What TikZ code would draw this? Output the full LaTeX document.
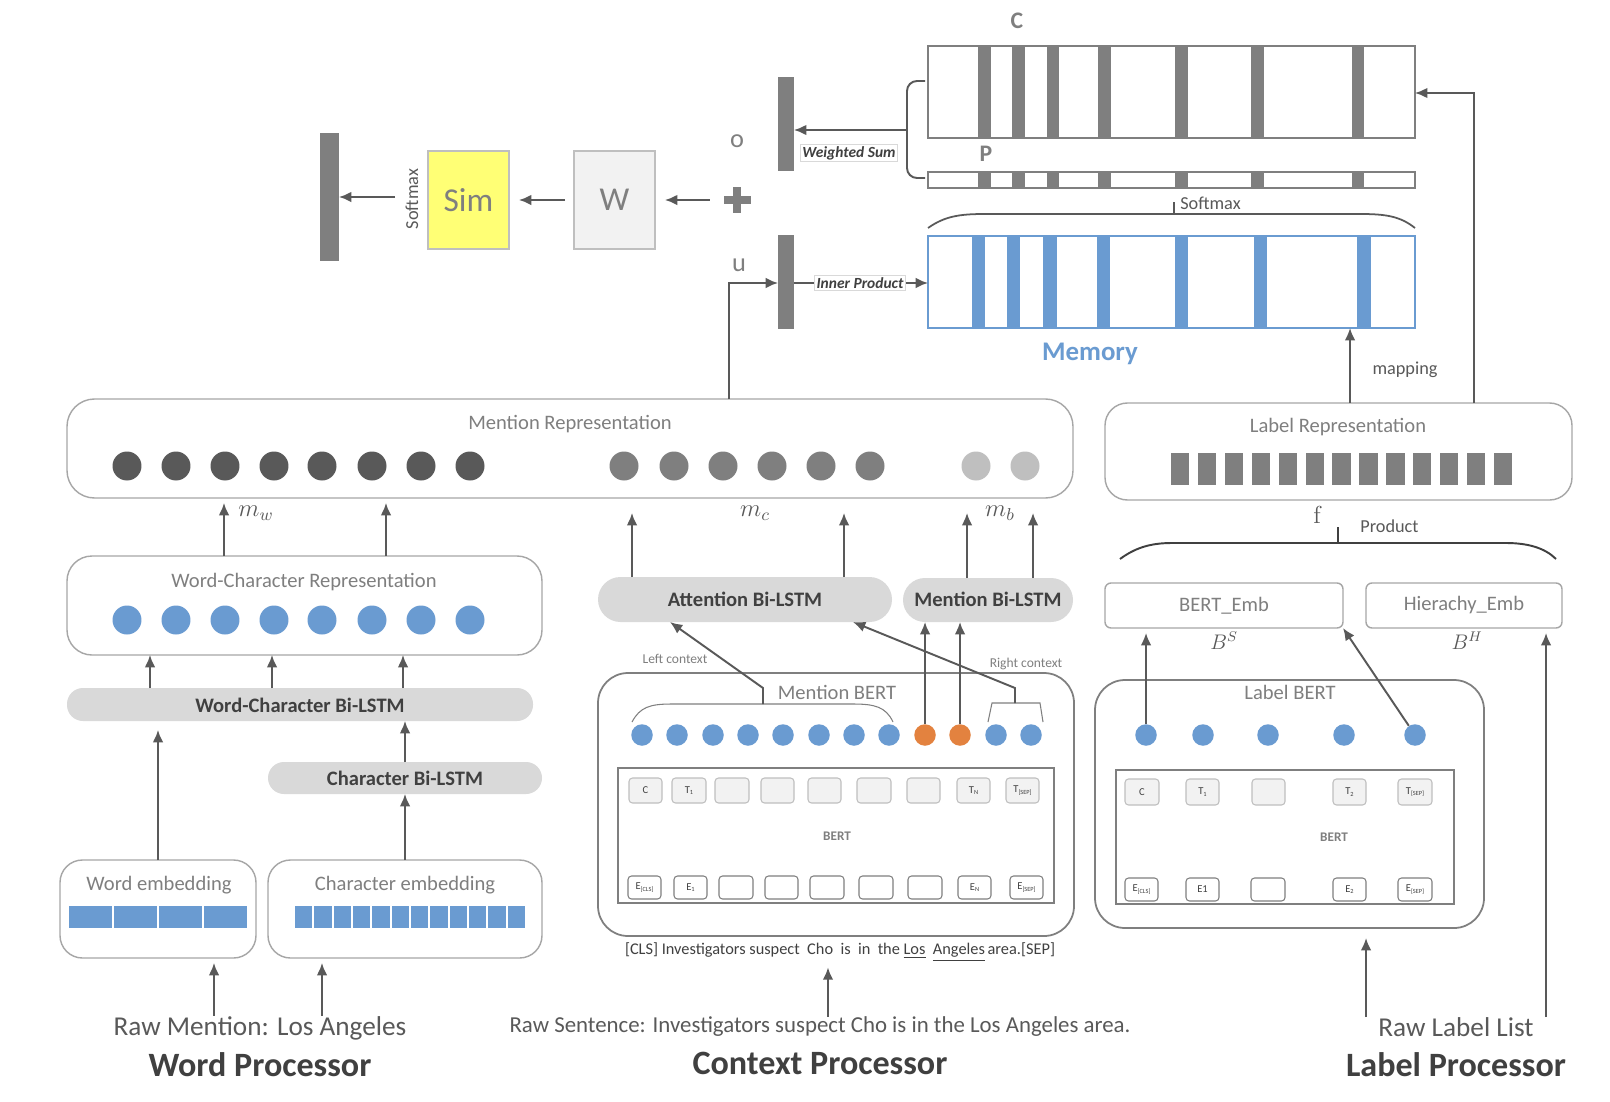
\RequirePackage{fix-cm}
\documentclass[tikz,border=0pt]{standalone}
\usepackage[no-math]{fontspec}
\setmainfont{Carlito}
\usetikzlibrary{arrows.meta}
\definecolor{ag}{HTML}{595959}
\definecolor{tg}{HTML}{7F7F7F}
\definecolor{dg}{HTML}{404040}
\definecolor{bd}{HTML}{A6A6A6}
\definecolor{lg}{HTML}{D9D9D9}
\definecolor{vl}{HTML}{F2F2F2}
\definecolor{bl}{HTML}{6A9BD1}
\definecolor{og}{HTML}{E3823F}
\definecolor{yl}{HTML}{FFFF75}
\definecolor{lc}{HTML}{BFBFBF}
\newcommand\fsz[1]{\fontsize{#1}{#1}\selectfont}
\newcommand\mkbox[7]{\node[inner sep=0pt, outer sep=0pt, minimum width={(#4-#2)*0.02cm}, minimum height={(#5-#3)*0.02cm},#6] (#1) at ({(#2+#4)/2},{(#3+#5)/2}) {#7};}
\newcommand\tsub[1]{\raisebox{-0.3ex}{\fontsize{3.6pt}{4pt}\selectfont #1}}
\begin{document}
\begin{tikzpicture}[x=0.02cm,y=-0.02cm,
 arr/.style={draw=ag, line width=1.1pt, -{Latex[length=7pt,width=6pt]}},
 ln/.style={draw=ag, line width=1.1pt},
 rbox/.style={draw=bd, line width=0.8pt, rounded corners=0.55cm},
 bbox/.style={draw=tg, line width=1pt, rounded corners=0.6cm},
 pill/.style={fill=lg, rounded corners=#1},
 lbl/.style={text=tg, inner sep=0pt, font=\fsz{11.7pt}},
 bold/.style={text=dg, font=\bfseries\fsz{11.7pt}, inner sep=0pt},
 dot/.style={circle, inner sep=0pt, minimum size=0.43cm, fill=bl},
 big/.style={circle, inner sep=0pt, minimum size=0.58cm},
 tokT/.style={fill=vl, draw=lc, rounded corners=2pt, line width=0.6pt, font=\fsz{6pt}, text=dg},
 tokE/.style={fill=white, draw=tg, rounded corners=2pt, line width=0.6pt, font=\fsz{6pt}, text=dg},
 ebox/.style={draw=bd, line width=0.8pt, rounded corners=0.12cm, font=\fsz{11.7pt}, text=tg},
 tag/.style={draw=lg, fill=white, font=\bfseries\itshape\fsz{8.8pt}, text=dg, inner sep=1pt},
 title/.style={text=dg, font=\bfseries\fsz{19.4pt}, inner sep=0pt}
 ]
\fill[white] (0,0) rectangle (1610,1102);
\useasboundingbox (0,0) rectangle (1610,1102);

%% ---------- top: output part
\mkbox{smbar}{320}{133}{339}{261}{fill=tg}{}
\node[lbl, text=ag, rotate=90, font=\fsz{10.4pt}] (smtxt) at (412,199) {Softmax};
\coordinate (smA) at (395,197);
\draw[arr] (smA) -- (smbar.east |- smA);
\mkbox{sim}{428}{151}{509}{249}{fill=yl, draw=lc, line width=0.8pt, text=tg, font=\fsz{19pt}}{Sim}
\mkbox{wbox}{574}{151}{655}{249}{fill=vl, draw=lc, line width=0.8pt, text=tg, font=\fsz{19pt}}{W}
\draw[arr, shorten <=0.18cm, shorten >=0.2cm] (wbox) -- (sim);
\node[inner sep=0pt, minimum size=0.54cm] (plus) at (737,200) {};
\fill[tg] (724,196) rectangle (751,204);
\fill[tg] (733,187) rectangle (741,213);
\draw[arr, shorten <=0.27cm, shorten >=0.2cm] (plus) -- (wbox);
\node[lbl, font=\fsz{15pt}] (olab) at (737,141) {o};
\node[lbl, font=\fsz{15pt}] (ulab) at (739,265) {u};
\mkbox{obar}{778}{77}{794}{171}{fill=tg}{}
\mkbox{ubar}{778}{235}{794}{329}{fill=tg}{}

% C and P
\foreach \a/\b in {978/991,1012/1025,1047/1059,1098/1111,1175/1188,1251/1264,1352/1364}{
  \fill[tg] (\a,46) rectangle (\b,138);
  \fill[tg] (\a,172) rectangle (\b,188);}
\mkbox{cbox}{928}{46}{1415}{138}{draw=tg, line width=1.4pt}{}
\mkbox{pbox}{928}{172}{1415}{188}{draw=tg, line width=1.4pt}{}
\node[lbl, font=\bfseries\fsz{13.5pt}] (clab) at (1017,21) {C};
\node[lbl, font=\bfseries\fsz{13.5pt}] (plab) at (986,154) {P};
\draw[ln, rounded corners=0.2cm] (925,81) -- (907,81) -- (907,178) -- (925,178);
\coordinate (wsb) at (907,130);
\draw[arr] (wsb) -- (obar.east |- wsb);
\node[tag] (wsum) at (849,153) {Weighted Sum};

% softmax brace
\draw[ln, line width=1pt] (928,228) .. controls (945,216) and (960,214) .. (985,214) -- (1360,214) .. controls (1385,214) and (1400,216) .. (1415,228);
\draw[ln, line width=1pt] (1174,214) -- (1174,202);
\node[lbl, text=ag, font=\fsz{10.4pt}, anchor=west] (smx) at (1180,203) {Softmax};

% memory
\foreach \a/\b in {972/985,1007/1020,1043/1057,1097/1110,1175/1188,1254/1267,1357/1371}{
  \fill[bl] (\a,236) rectangle (\b,328);}
\mkbox{mem}{928}{236}{1415}{328}{draw=bl, line width=1.4pt}{}
\node[lbl, text=bl, font=\bfseries\fsz{15.3pt}] (memlab) at (1090,354) {Memory};
\coordinate (ipy) at (786,283);
\draw[arr] (ubar.east |- ipy) -- (mem.west |- ipy);
\node[tag] (iprod) at (860,283) {Inner Product};

%% ---------- mention representation
\mkbox{mrep}{67}{399}{1073}{498}{rbox}{}
\node[lbl] (mreptxt) at (570,424) {Mention Representation};
\foreach \x [count=\i] in {127,176,225,274,322,372,421,470}{\node[big, fill=ag] (mw\i) at (\x,466) {};}
\foreach \x [count=\i] in {624,674,723,772,821,870}{\node[big, fill=tg] (mc\i) at (\x,466) {};}
\foreach \x [count=\i] in {976,1025}{\node[big, fill=lc] (mb\i) at (\x,466) {};}
\coordinate (uc) at (729,283);
\draw[arr] (mrep.north -| uc) |- (ubar.west |- uc);

%% ---------- word processor
\mkbox{wcr}{67}{556}{542}{655}{rbox, rounded corners=0.5cm}{}
\node[lbl] (wcrtxt) at (304,582) {Word-Character Representation};
\foreach \x [count=\i] in {127,176,225,274,322,372,421,470}{\node[big, fill=bl] (wc\i) at (\x,620) {};}
\foreach \x in {224,386}{\draw[arr, shorten >=0.1cm] (wcr.north -| \x,0) -- (mrep.south -| \x,0);}
\node[lbl, text=ag, font=\fsz{14pt}] (mwl) at (256,513) {$m_w$};
\mkbox{wcbi}{67}{688}{533}{721}{pill=0.32cm}{}
\node[bold] (wcbit) at (300,705) {Word-Character Bi-LSTM};
\foreach \x in {150,272,403}{\draw[arr] (wcbi.north -| \x,0) -- (wcr.south -| \x,0);}
\mkbox{cbi}{268}{762}{542}{794}{pill=0.32cm}{}
\node[bold] (cbit) at (405,778) {Character Bi-LSTM};
\draw[arr] (cbi.north -| 405,0) -- (wcbi.south -| 405,0);
\mkbox{wemb}{60}{860}{256}{958}{rbox, rounded corners=0.45cm}{}
\node[lbl] (wembt) at (159,885) {Word embedding};
\foreach \i in {0,...,3}{\draw[fill=bl, draw=white, line width=1pt] ({68+\i*45},905) rectangle ({68+(\i+1)*45},929);}
\mkbox{cemb}{268}{860}{542}{958}{rbox, rounded corners=0.45cm}{}
\node[lbl] (cembt) at (405,885) {Character embedding};
\foreach \i in {0,...,11}{\draw[fill=bl, draw=white, line width=1pt] ({294+\i*19.33},905) rectangle ({294+(\i+1)*19.33},929);}
\draw[arr, shorten >=0.18cm] (wemb.north -| 158,0) -- (wcbi.south -| 158,0);
\draw[arr] (cemb.north -| 405,0) -- (cbi.south -| 405,0);
\node[lbl, text=ag, font=\fsz{15.5pt}] (rawm) at (260,1028) {Raw Mention: Los Angeles};
\draw[arr, shorten >=0.1cm] (rawm.north -| 214,0) -- (wemb.south -| 214,0);
\draw[arr, shorten >=0.1cm] (rawm.north -| 322,0) -- (cemb.south -| 322,0);
\node[title] (wproc) at (260,1065) {Word Processor};

%% ---------- context processor
\mkbox{attn}{598}{577}{892}{622}{pill=0.45cm}{}
\node[bold] (attnt) at (745,599) {Attention Bi-LSTM};
\mkbox{mbi}{903}{578}{1073}{622}{pill=0.44cm}{}
\node[bold] (mbit) at (988,599) {Mention Bi-LSTM};
\foreach \x in {632,844}{\draw[arr, shorten >=0.3cm] (attn.north -| \x,0) -- (mrep.south -| \x,0);}
\foreach \x in {967,1033}{\draw[arr, shorten >=0.3cm] (mbi.north -| \x,0) -- (mrep.south -| \x,0);}
\node[lbl, text=ag, font=\fsz{14pt}] (mcl) at (755,513) {$m_c$};
\node[lbl, text=ag, font=\fsz{14pt}] (mbl) at (1000,513) {$m_b$};

\mkbox{mbert}{598}{673}{1074}{936}{bbox}{}
\node[lbl] (mbertt) at (837,692) {Mention BERT};
\foreach \x [count=\i] in {642,677,713,748,783,819,854,889}{\node[dot] (md\i) at (\x,735) {};}
\node[dot, fill=og] (md9) at (925,735) {};
\node[dot, fill=og] (md10) at (960,735) {};
\node[dot] (md11) at (996,735) {};
\node[dot] (md12) at (1031,735) {};
\draw[draw=tg, line width=0.6pt] (632,722) .. controls (640,707) and (650,704) .. (672,704) -- (853,704) .. controls (875,704) and (886,707) .. (893,722);
\draw[draw=tg, line width=0.6pt] (988,722) -- (992,703) -- (1040,703) -- (1043,722);
\coordinate (lcb) at (763,704);
\coordinate (lct) at (763,688);
\coordinate (attnL) at (670,622);
\draw[arr] (lcb) -- (lct) -- (attnL);
\coordinate (rcb) at (1015,703);
\coordinate (rct) at (1015,688);
\coordinate (attnR) at (853,622);
\draw[arr] (rcb) -- (rct) -- (attnR);
\node[lbl, font=\fsz{7.7pt}] (lctx) at (675,659) {Left context};
\node[lbl, font=\fsz{7.7pt}] (rctx) at (1026,664) {Right context};
\draw[arr] (md9) -- (mbi.south -| md9);
\draw[arr] (md10) -- (mbi.south -| md10);

\mkbox{mib}{618}{768}{1054}{903}{draw=tg, line width=1.2pt}{}
\foreach \a/\b/\t [count=\i] in {629/662/C,672/706/T\tsub{1},715/749/,761/794/,808/841/,857/891/,907/940/,957/990/T\tsub{N},1006/1039/T\tsub{[SEP]}}{
  \mkbox{mt\i}{\a}{778}{\b}{803}{tokT}{\t}}
\foreach \a/\b/\t [count=\i] in {628/661/E\tsub{[CLS]},674/707/E\tsub{1},719/753/,765/798/,810/844/,859/893/,908/942/,958/991/E\tsub{N},1010/1043/E\tsub{[SEP]}}{
  \mkbox{me\i}{\a}{876}{\b}{899}{tokE}{\t}}
\node[lbl, font=\bfseries\fsz{7.5pt}] (mbt) at (837,836) {BERT};
\node[inner sep=0pt, text=dg, font=\fsz{9.3pt}] (sent) at (840,952) {[CLS] Investigators suspect\ \ Cho\ \ is\ \ in\ \ the \underline{Los}\ \ \underline{Angeles}\,area.[SEP]};
\node[lbl, text=ag, font=\fsz{13pt}] (rawsent) at (820,1027) {Raw Sentence: Investigators suspect Cho is in the Los Angeles area.};
\draw[arr, shorten >=0.12cm] (rawsent.north -| 828,0) -- (sent.south -| 828,0);
\node[title] (cproc) at (820,1063) {Context Processor};

%% ---------- label processor
\mkbox{lrep}{1105}{403}{1572}{500}{rbox, rounded corners=0.45cm}{}
\node[lbl] (lrept) at (1338,427) {Label Representation};
\foreach \i in {0,...,12}{\fill[tg] ({1171+\i*26.9},453) rectangle ({1171+\i*26.9+18.3},485);}
\coordinate (mapc) at (1350,360);
\draw[arr] (lrep.north -| mapc) -- (mem.south -| mapc);
\node[lbl, text=ag, font=\fsz{10.4pt}] (maplab) at (1405,370) {mapping};
\coordinate (rc) at (1474,93);
\draw[arr] (lrep.north -| rc) |- (cbox.east |- rc);

\node[lbl, text=ag, font=\fsz{14pt}] (flab) at (1318,515) {$\mathrm{f}$};
\node[lbl, text=ag, font=\fsz{10.4pt}, anchor=west] (prod) at (1360,526) {Product};
\draw[draw=dg, line width=1.1pt] (1120,559) .. controls (1135,548) and (1150,543) .. (1172,543) -- (1506,543) .. controls (1528,543) and (1545,548) .. (1556,559);
\draw[draw=dg, line width=1.1pt] (1338,543) -- (1338,527);
\mkbox{bemb}{1105}{583}{1343}{628}{ebox}{BERT\_Emb}
\mkbox{hemb}{1366}{583}{1562}{628}{ebox}{Hierachy\_Emb}
\node[lbl, text=ag, font=\fsz{12pt}] (bs) at (1224,641) {$B^S$};
\node[lbl, text=ag, font=\fsz{12pt}] (bh) at (1467,641) {$B^H$};

\mkbox{lbert}{1095}{680}{1484}{928}{bbox}{}
\node[lbl] (lbertt) at (1290,692) {Label BERT};
\foreach \x [count=\i] in {1146,1203,1268,1344,1415}{\node[dot] (ld\i) at (\x,735) {};}
\mkbox{lib}{1116}{770}{1454}{904}{draw=tg, line width=1.2pt}{}
\foreach \a/\b/\t [count=\i] in {1125/1159/C,1186/1219/T\tsub{1},1252/1285/,1333/1366/T\tsub{2},1398/1432/T\tsub{[SEP]}}{
  \mkbox{lt\i}{\a}{779}{\b}{805}{tokT}{\t}}
\foreach \a/\b/\t [count=\i] in {1125/1158/E\tsub{[CLS]},1186/1219/E1,1251/1285/,1333/1366/E\tsub{2},1398/1432/E\tsub{[SEP]}}{
  \mkbox{le\i}{\a}{878}{\b}{901}{tokE}{\t}}
\node[lbl, font=\bfseries\fsz{7.5pt}] (lbt) at (1334,837) {BERT};
\draw[arr, shorten >=0.1cm] (ld1) -- (bemb.south -| ld1);
\draw[arr] (ld5) -- (bemb.south east);
\node[lbl, text=ag, font=\fsz{15.5pt}] (rawl) at (1456,1027) {Raw Label List};
\draw[arr, shorten >=0.2cm] (rawl.north -| 1366,0) -- (lbert.south -| 1366,0);
\draw[arr, shorten >=0.1cm] (rawl.north -| 1546,0) -- (hemb.south -| 1546,0);
\node[title] (lproc) at (1456,1065) {Label Processor};
\end{tikzpicture}
\end{document}
